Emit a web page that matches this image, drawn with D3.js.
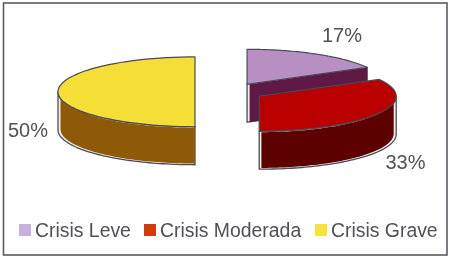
<!DOCTYPE html>
<html>
<head>
<meta charset="utf-8">
<script src="https://cdn.jsdelivr.net/npm/d3@7"></script>
<style>
	html, body { margin: 0; padding: 0; background: #fff; }
	svg { display: block; filter: blur(0.35px); }
	text { font-family: "Liberation Sans", Arial, sans-serif; fill: #505058; }
</style>
</head>
<body>
<div id="chart"></div>
<script>
// values
const categories = ["Crisis Leve", "Crisis Moderada", "Crisis Grave"];
const shares = [17, 33, 50];

const width = 450, height = 259;

// colours per category
const topColor = d3.scaleOrdinal(categories, ["#b88fc2", "#b80000", "#f5de35"]);
const wallColor = d3.scaleOrdinal(categories, ["#5e1a44", "#5c0000", "#8f5a08"]);
const swatchColor = d3.scaleOrdinal(categories, ["#c6b0dc", "#d23c0a", "#f6e23c"]);

// fake 3D pie settings
const baseX = 229.5, baseY = 91.8;
const radius = 137, tilt = 0.255, depth = 38, explode = 34.5;
const lineColor = "#4a4a58";

const svg = d3.select("#chart").append("svg")
	.attr("width", width)
	.attr("height", height);

svg.append("rect")
	.attr("x", 3.5).attr("y", 3)
	.attr("width", 443.5).attr("height", 252)
	.attr("fill", "#fff")
	.attr("stroke", "#5a5a64")
	.attr("stroke-width", 1.6);

const slices = d3.pie().sort(null).value(d => d.value)(
	categories.map((c, i) => ({name: c, value: shares[i]}))
);

// angle 0 is up, clockwise, squashed by the tilt
function project(s, a, r, dy) {
	let mid = (s.startAngle + s.endAngle) / 2;
	let cx = baseX + explode * Math.sin(mid);
	let cy = baseY - explode * Math.cos(mid) * tilt;
	return [cx + r * Math.sin(a), cy - r * Math.cos(a) * tilt + dy];
}

function arcPoints(s, a0, a1, dy, r) {
	let n = 60;
	return d3.range(n + 1).map(i => project(s, a0 + (a1 - a0) * i / n, r, dy));
}

const line = d3.line();

// wall polygons seen from the front: outer shape plus the coloured inner one,
// the gap between them is the pale rim the scan shows
function wallPolys(s) {
	let polys = [];
	let a0 = s.startAngle, a1 = s.endAngle;
	// outer rim, only the front half (90deg to 270deg) shows
	let r0 = Math.max(a0, Math.PI / 2), r1 = Math.min(a1, Math.PI * 1.5);
	if (r1 > r0) {
		let inner = arcPoints(s, r0, r1, 1.6, radius - 2.5).concat(arcPoints(s, r1, r0, depth - 0.6, radius - 2.5));
		// slice ending straight down keeps a pale sliver on its left side too
		if (Math.abs(a1 - Math.PI) < 1e-6) {
			let left = project(s, 0, 0, 0)[0] + 2.2;
			inner = inner.map(p => [Math.max(p[0], left), p[1]]);
		}
		polys.push({
			outer: arcPoints(s, r0, r1, 0, radius).concat(arcPoints(s, r1, r0, depth, radius)),
			inner: inner
		});
	}
	// cut face of the first slice, running from centre to its end angle
	if (a1 < Math.PI / 2) {
		let c = project(s, 0, 0, 0), e = project(s, a1, radius, 0);
		polys.push({
			outer: [c, e, [e[0], e[1] + depth], [c[0], c[1] + depth]],
			inner: [[c[0] + 2.5, c[1]], e, [e[0], e[1] + depth], [c[0] + 2.5, c[1] + depth]]
		});
	}
	return polys;
}

// draw back to front
const order = [0, 2, 1];

order.forEach(i => {
	let s = slices[i];
	let g = svg.append("g").attr("class", "slice");

	wallPolys(s).forEach(p => {
		g.append("path")
			.attr("d", line(p.outer) + "Z")
			.attr("fill", "#f4f1ea")
			.attr("stroke", lineColor)
			.attr("stroke-width", 1.3)
			.attr("stroke-linejoin", "round");
		g.append("path")
			.attr("d", line(p.inner) + "Z")
			.attr("fill", wallColor(s.data.name));
	});

	let top = [project(s, 0, 0, 0)].concat(arcPoints(s, s.startAngle, s.endAngle, 0, radius));
	g.append("path")
		.attr("d", line(top) + "Z")
		.attr("fill", topColor(s.data.name))
		.attr("stroke", lineColor)
		.attr("stroke-width", 1.2)
		.attr("stroke-linejoin", "round");
});

// percent labels
const labelPos = [[342, 42], [405.5, 169], [28, 137]];
svg.append("g").selectAll("text")
	.data(slices)
	.enter()
	.append("text")
	.attr("x", (d, i) => labelPos[i][0])
	.attr("y", (d, i) => labelPos[i][1])
	.attr("text-anchor", "middle")
	.attr("font-size", 20)
	.text(d => d.data.value + "%");

// legend
const legendX = [19, 144, 315];
const legend = svg.append("g").selectAll("g")
	.data(categories)
	.enter()
	.append("g")
	.attr("transform", (d, i) => "translate(" + legendX[i] + ",224)");

legend.append("rect")
	.attr("width", 12)
	.attr("height", 12)
	.attr("fill", d => swatchColor(d));

legend.append("text")
	.attr("x", 16)
	.attr("y", 13)
	.attr("font-size", 19.4)
	.text(d => d);
</script>
</body>
</html>
